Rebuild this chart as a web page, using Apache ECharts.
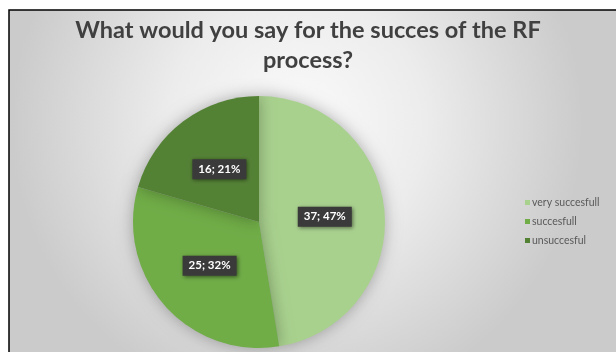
<!DOCTYPE html>
<html>
<head>
<meta charset="utf-8">
<style>
  html, body { margin: 0; padding: 0; background: #ffffff; }
  #chart { width: 616px; height: 352px; }
</style>
<script src="https://cdn.jsdelivr.net/npm/echarts@6/dist/echarts.min.js"></script>
</head>
<body>
<div id="chart"></div>
<script>
// Survey answers and their counts
const categories = ['very succesfull', 'succesfull', 'unsuccesful'];
const counts = [37, 25, 16];
const sliceColors = ['#a9d18e', '#70ad47', '#548235'];
const titleText = 'What would you say for the succes of the RF\nprocess?';

const chart = echarts.init(document.getElementById('chart'), null, { renderer: 'canvas' });

const option = {
  animation: false,
  graphic: [
    {
      type: 'rect',
      z: -10,
      silent: true,
      shape: { x: 9, y: 10, width: 640, height: 380 },
      style: {
        fill: {
          type: 'radial', x: 0.45, y: 0.3, r: 0.75,
          colorStops: [
            { offset: 0, color: '#fbfbfb' },
            { offset: 0.45, color: '#ececec' },
            { offset: 1, color: '#cbcbcb' }
          ]
        },
        stroke: '#000000',
        lineWidth: 1.5
      }
    }
  ],
  title: {
    text: titleText,
    left: 'center',
    top: 10,
    textStyle: {
      fontFamily: 'Lato',
      fontWeight: 'bold',
      fontSize: 23.5,
      lineHeight: 30,
      color: '#404040'
    }
  },
  legend: {
    orient: 'vertical',
    left: 520,
    top: 192,
    itemWidth: 5,
    itemHeight: 5,
    itemGap: 8,
    icon: 'rect',
    textStyle: { fontFamily: 'Lato', fontSize: 10.5, color: '#595959', padding: [0, 0, 0, -3] },
    data: categories
  },
  series: [
    {
      type: 'pie',
      center: [259, 222],
      radius: [0, 126],
      startAngle: 90,
      clockwise: true,
      percentPrecision: 0,
      avoidLabelOverlap: false,
      itemStyle: {
        shadowBlur: 16,
        shadowColor: 'rgba(0,0,0,0.3)'
      },
      label: {
        show: true,
        position: 'inside',
        formatter: '{c}; {d}%',
        fontFamily: 'Lato',
        fontWeight: 'bold',
        fontSize: 11.5,
        color: '#ffffff',
        backgroundColor: '#3a3a3a',
        padding: [4, 6, 4, 6],
        shadowBlur: 4,
        shadowColor: 'rgba(0,0,0,0.5)',
        shadowOffsetX: 1,
        shadowOffsetY: 1
      },
      labelLine: { show: false },
      data: categories.map((name, i) => ({
        name: name,
        value: counts[i],
        itemStyle: { color: sliceColors[i] }
      }))
    }
  ]
};

chart.setOption(option);
</script>
</body>
</html>
